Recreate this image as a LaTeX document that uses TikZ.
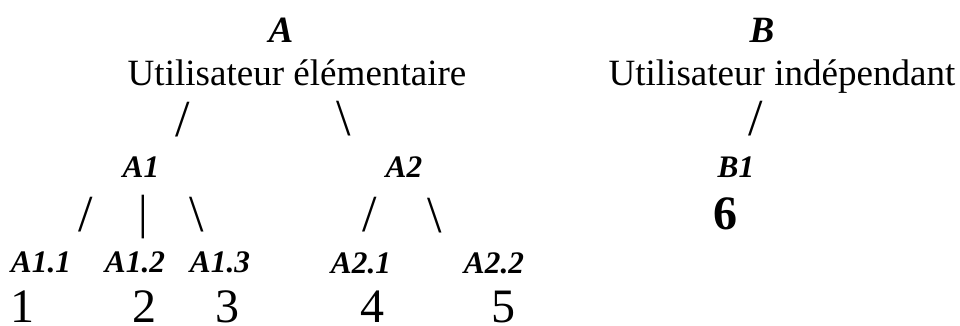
\documentclass[tikz,border=0pt]{standalone}
\usepackage{fontspec}
\setmainfont{Liberation Serif}
\usepackage{tikz}
\usetikzlibrary{positioning}

\begin{document}
\begin{tikzpicture}[
    x=0.75pt, y=-0.75pt,
    every node/.style={inner sep=0pt, outer sep=0pt},
    titre/.style={anchor=base, font=\fontsize{27.8}{32}\selectfont\bfseries\itshape},
    libelle/.style={anchor=base, font=\fontsize{27.8}{32}\selectfont},
    code/.style={anchor=base, font=\fontsize{23.5}{28}\selectfont\bfseries\itshape},
    trait/.style={anchor=center, font=\fontsize{39}{44}\selectfont},
    chiffre/.style={anchor=base, font=\fontsize{36}{40}\selectfont}
  ]
  \useasboundingbox (0,0) rectangle (960,325);

  % branche A
  \node[titre] (A) at (281,42) {A};
  \node[libelle] (elem) at (297,85) {Utilisateur élémentaire};
  \node[trait] (sA1) at (183,120) {/};
  \node[trait] (sA2) at (344,119) {\textbackslash};
  \node[code] (A1) at (141,177) {A1};
  \node[code] (A2) at (404,177) {A2};

  \node[trait] (sA11) at (86,215) {/};
  \node[trait, font=\fontsize{36}{40}\selectfont] (sA12) at (143,217) {|};
  \node[trait] (sA13) at (197,215) {\textbackslash};
  \node[trait] (sA21) at (370,215) {/};
  \node[trait] (sA22) at (435,216) {\textbackslash};

  \node[code] (A11) at (41,272) {A1.1};
  \node[code] (A12) at (135,272) {A1.2};
  \node[code] (A13) at (220,272) {A1.3};
  \node[code] (A21) at (361,273) {A2.1};
  \node[code] (A22) at (494,273) {A2.2};

  \node[chiffre] (n1) at (22,322) {1};
  \node[chiffre] (n2) at (144,322) {2};
  \node[chiffre] (n3) at (227,322) {3};
  \node[chiffre] (n4) at (372,322) {4};
  \node[chiffre] (n5) at (503,322) {5};

  % branche B
  \node[titre] (B) at (762,42) {B};
  \node[libelle] (indep) at (782,85) {Utilisateur indépendant};
  \node[trait] (sB1) at (756,119) {/};
  \node[code] (B1) at (736,177) {B1};
  \node[chiffre, font=\fontsize{36}{40}\selectfont\bfseries] (n6) at (725,229) {6};

\end{tikzpicture}
\end{document}
